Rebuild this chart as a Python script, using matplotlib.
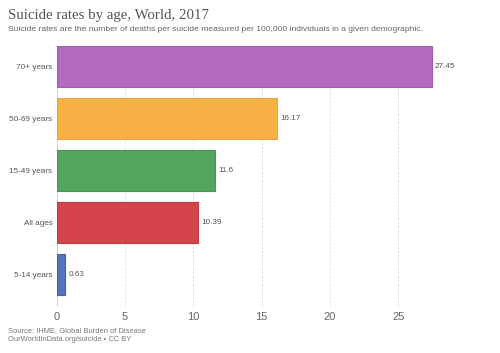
import matplotlib
matplotlib.use("Agg")
from matplotlib import pyplot as plt

plt.rcParams['font.family'] = ['Liberation Sans', 'DejaVu Sans']

# data, top to bottom
categories = ["70+ years", "50-69 years", "15-49 years", "All ages", "5-14 years"]
values = [27.45, 16.17, 11.6, 10.39, 0.63]
labels = ["27.45", "16.17", "11.6", "10.39", "0.63"]
colors = ["#b36bc2", "#f7b043", "#52a65e", "#d5444b", "#5273bd"]
edges = ["#a05cae", "#eda43a", "#479653", "#c23b42", "#46659f"]
xticks = [0, 5, 10, 15, 20, 25]

fig = plt.figure(figsize=(5, 3.53), dpi=100)
ax = fig.add_axes([0.113, 0.131, 0.82, 0.7387])

pos = list(range(len(categories)))
ax.barh(pos, values, height=0.79, color=colors, edgecolor=edges, linewidth=0.8, zorder=3)

for p, v, lab in zip(pos, values, labels):
    ax.text(v + 0.25, p, lab, va="center", ha="left", fontsize=5.9, color="#555555")

ax.set_xlim(0, 30)
ax.set_ylim(4.62, -0.395)
ax.set_yticks(pos)
ax.set_yticklabels(categories, fontsize=5.9, color="#555555")
ax.set_xticks(xticks)
ax.set_xticklabels([str(t) for t in xticks], fontsize=8, color="#666666")
ax.tick_params(axis="y", length=0, pad=3)
ax.tick_params(axis="x", length=0, pad=4)
ax.grid(axis="x", color="#dddddd", linestyle=(0, (3, 2)), linewidth=0.6, zorder=0)
for s in ax.spines.values():
    s.set_visible(False)
ax.axvline(0, color="#cccccc", linewidth=0.8, zorder=1)

fig.text(0.016, 0.957, "Suicide rates by age, World, 2017", fontsize=10.7,
         family="Liberation Serif", color="#555555", va="center")
fig.text(0.016, 0.917, "Suicide rates are the number of deaths per suicide measured per 100,000 individuals in a given demographic.",
         fontsize=6.1, color="#666666", va="center")
fig.text(0.016, 0.064, "Source: IHME, Global Burden of Disease", fontsize=5.4, color="#777777", va="center")
fig.text(0.016, 0.037, "OurWorldInData.org/suicide \u2022 CC BY", fontsize=5.4, color="#777777", va="center")

plt.savefig("out.png", dpi=100)
